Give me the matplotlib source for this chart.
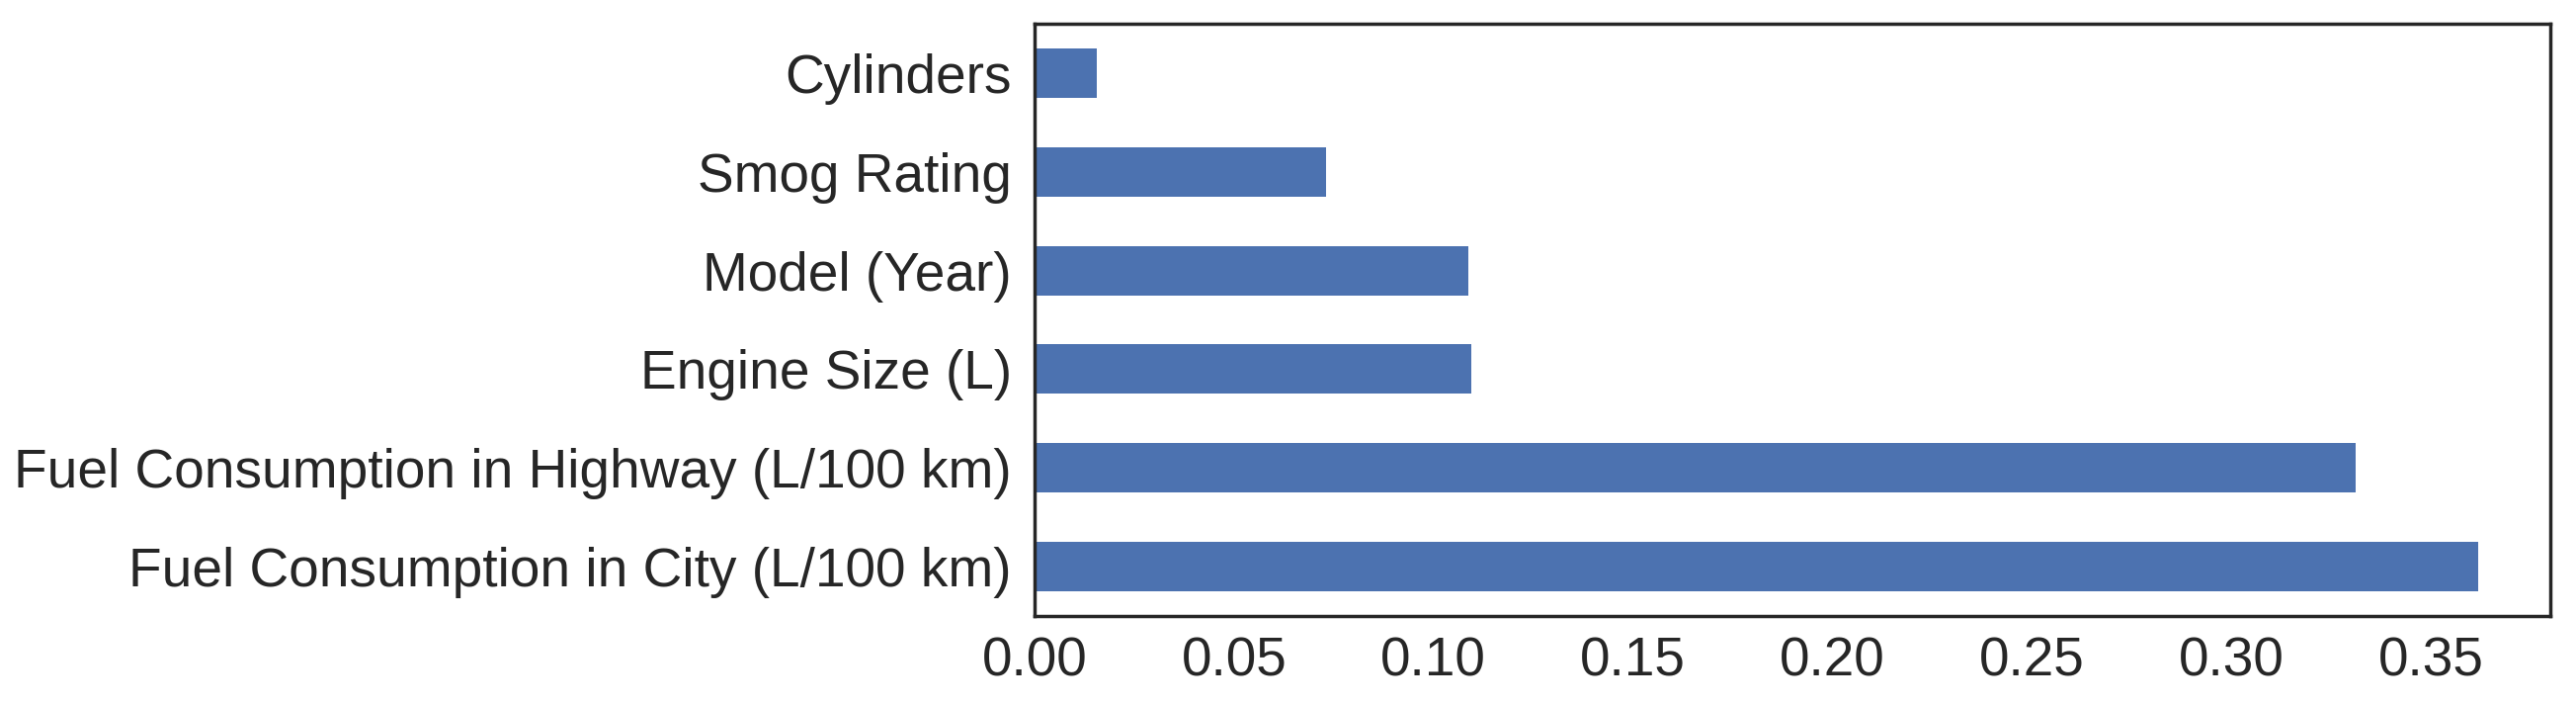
import matplotlib
matplotlib.use("Agg")
import matplotlib.pyplot as plt
import numpy as np

# feature importances, bottom -> top as drawn
features = ["Fuel Consumption in City (L/100 km)",
            "Fuel Consumption in Highway (L/100 km)",
            "Engine Size (L)",
            "Model (Year)",
            "Smog Rating",
            "Cylinders"]
importance = [0.3619, 0.3312, 0.1095, 0.1087, 0.0731, 0.0155]
xticks = [0.00, 0.05, 0.10, 0.15, 0.20, 0.25, 0.30, 0.35]

plt.rcParams["font.family"] = ["Liberation Sans", "DejaVu Sans"]
plt.rcParams["text.color"] = "#262626"

fig = plt.figure(figsize=(13.035, 3.56), dpi=200)
ax = fig.add_axes([1047 / 2607, 1 - 623 / 712, (2581 - 1047) / 2607, (623 - 24) / 712])

y = np.arange(len(features))
ax.barh(y, importance, height=0.5, color="#4C72B0")
ax.set_ylim(-0.5, len(features) - 0.5)
ax.set_xlim(0, max(importance) * 1.05)
ax.set_yticks(y)
ax.set_yticklabels(features)
ax.set_xticks(xticks)
ax.set_xticklabels([f"{t:.2f}" for t in xticks])
ax.tick_params(axis="both", length=0, labelsize=19.8, colors="#262626")
ax.tick_params(axis="y", pad=8.3)
ax.tick_params(axis="x", pad=7.5)
for s in ax.spines.values():
    s.set_color("#262626")
    s.set_linewidth(1.25)

fig.savefig("out.png", dpi=200)
